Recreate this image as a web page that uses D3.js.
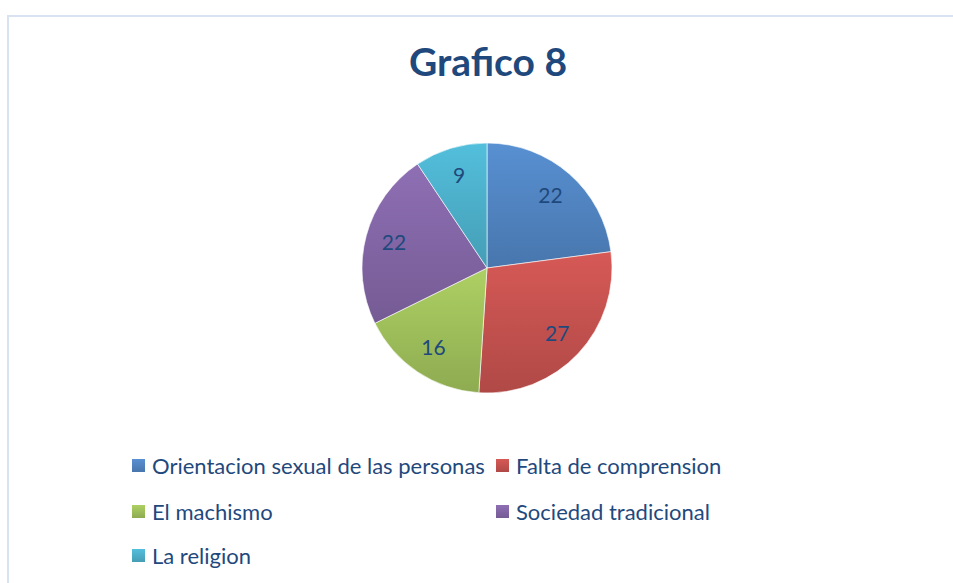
<!DOCTYPE html>
<html>
<head>
<meta charset="utf-8">
<script src="https://cdn.jsdelivr.net/npm/d3@7"></script>
<style>
  body { margin: 0; background: #fff; }
</style>
</head>
<body>
<div id="chart"></div>
<script>
const categories = ["Orientacion sexual de las personas", "Falta de comprension", "El machismo", "Sociedad tradicional", "La religion"];
const values = [22, 27, 16, 22, 9];
const colors = ["#4f81bd", "#c0504d", "#9bbb59", "#8064a2", "#4bacc6"];

const width = 953, height = 583;
const cx = 487, cy = 268, radius = 125;
const textColor = "#1f497d";

const svg = d3.select("#chart").append("svg")
    .attr("width", width)
    .attr("height", height);

// chart frame (only top and left edges visible)
svg.append("rect")
    .attr("x", 8).attr("y", 16)
    .attr("width", width + 20).attr("height", height + 20)
    .attr("fill", "#fff")
    .attr("stroke", "#d9e2f1")
    .attr("stroke-width", 2);

svg.append("text")
    .attr("x", cx + 1).attr("y", 76)
    .attr("text-anchor", "middle")
    .attr("font-family", "Lato, 'Open Sans', sans-serif")
    .attr("font-weight", "bold")
    .attr("font-size", 39)
    .attr("fill", textColor)
    .text("Grafico 8");

// one vertical gradient per slice, lighter at the top
const defs = svg.append("defs");
colors.forEach((c, i) => {
    const grad = defs.append("linearGradient")
        .attr("id", "grad" + i)
        .attr("x1", 0).attr("y1", 0).attr("x2", 0).attr("y2", 1);
    grad.append("stop").attr("offset", "0%").attr("stop-color", d3.color(c).brighter(0.3));
    grad.append("stop").attr("offset", "100%").attr("stop-color", d3.color(c).darker(0.25));
});

const pie = d3.pie().sort(null).value(d => d)(values);
const arc = d3.arc().innerRadius(0).outerRadius(radius);
const labelArc = d3.arc().innerRadius(radius * 0.77).outerRadius(radius * 0.77);

const g = svg.append("g").attr("transform", `translate(${cx},${cy})`);

g.selectAll("path.slice")
    .data(pie)
    .join("path")
    .attr("class", "slice")
    .attr("d", arc)
    .attr("fill", (d, i) => `url(#grad${i})`)
    .attr("stroke", "#fff")
    .attr("stroke-width", 0.6);

g.selectAll("text.lbl")
    .data(pie)
    .join("text")
    .attr("class", "lbl")
    .attr("transform", d => `translate(${labelArc.centroid(d)})`)
    .attr("text-anchor", "middle")
    .attr("dy", "0.35em")
    .attr("font-family", "Lato, 'Open Sans', sans-serif")
    .attr("font-size", 21)
    .attr("fill", textColor)
    .text(d => d.data);

// legend: two columns, three rows
const colX = [132, 496];
const rowY = [466, 512, 556];
const legend = svg.append("g");
categories.forEach((name, i) => {
    const x = colX[i % 2], y = rowY[Math.floor(i / 2)];
    legend.append("rect")
        .attr("x", x).attr("y", y - 7)
        .attr("width", 13).attr("height", 13)
        .attr("fill", `url(#grad${i})`);
    legend.append("text")
        .attr("x", x + 20).attr("y", y)
        .attr("dy", "0.35em")
        .attr("font-family", "Lato, 'Open Sans', sans-serif")
        .attr("font-size", 22)
        .attr("fill", textColor)
        .text(name);
});
</script>
</body>
</html>
